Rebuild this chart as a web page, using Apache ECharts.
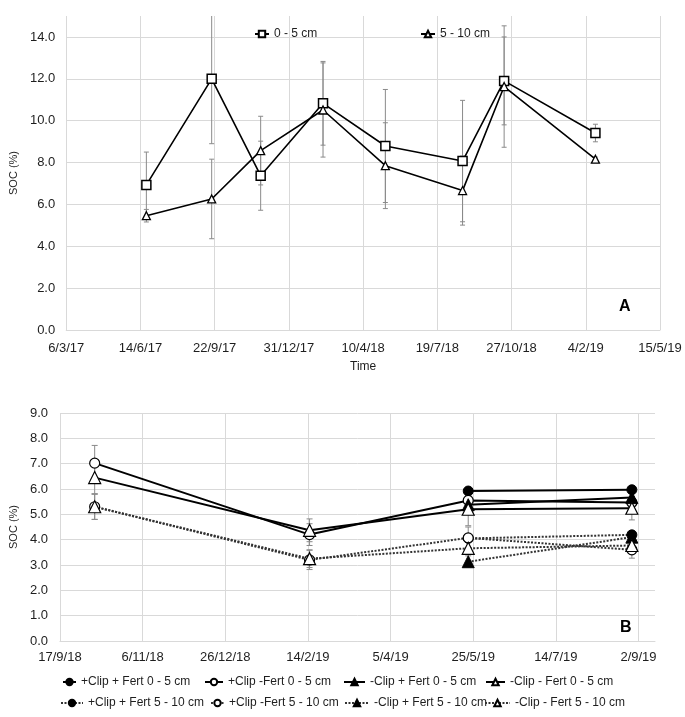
<!DOCTYPE html>
<html><head><meta charset="utf-8">
<script src="https://cdn.jsdelivr.net/npm/echarts@6/dist/echarts.min.js"></script>
<style>html,body{margin:0;padding:0;background:#fff}#c{width:685px;height:717px}</style>
</head><body><div id="c"></div>
<script>
// ---------- Panel A data ----------
const baseA = '2017-03-06';
const xTicksA = ['6/3/17','14/6/17','22/9/17','31/12/17','10/4/18','19/7/18','27/10/18','4/2/19','15/5/19'];
const yTicksA = ['0.0','2.0','4.0','6.0','8.0','10.0','12.0','14.0'];
const datesA = ['2017-06-22','2017-09-18','2017-11-23','2018-02-15','2018-05-10','2018-08-22','2018-10-17','2019-02-17'];
const soc05A  = [6.93, 12.0, 7.37, 10.83, 8.79, 8.07, 11.9, 9.41];
const err05A  = [1.57, 3.1, 1.65, 2.0, 2.7, 2.9, 2.1, 0.42];
const soc510A = [5.46, 6.26, 8.57, 10.51, 7.85, 6.66, 11.63, 8.16];
const err510A = [0.3, 1.9, 1.64, 2.25, 2.05, 1.65, 2.9, 0.1];

// ---------- Panel B data ----------
const baseB = '2018-09-17';
const xTicksB = ['17/9/18','6/11/18','26/12/18','14/2/19','5/4/19','25/5/19','14/7/19','2/9/19'];
const yTicksB = ['0.0','1.0','2.0','3.0','4.0','5.0','6.0','7.0','8.0','9.0'];
const datesB = ['2018-10-08','2019-02-15','2019-05-22','2019-08-29'];
const namesB = ['+Clip + Fert 0 - 5 cm','+Clip -Fert 0 - 5 cm','-Clip + Fert 0 - 5 cm','-Clip - Fert 0 - 5 cm',
                '+Clip + Fert 5 - 10 cm','+Clip -Fert 5 - 10 cm','-Clip + Fert 5 - 10 cm','-Clip - Fert 5 - 10 cm'];
const cpF05  = [null, null, 5.92, 5.97];
const cpNF05 = [7.02, 4.20, 5.55, 5.47];
const cnF05  = [null, null, 5.38, 5.66];
const cnNF05 = [6.45, 4.37, 5.20, 5.24];
const cpF510  = [null, null, 4.05, 4.19];
const cpNF510 = [5.30, 3.20, 4.07, 3.60];
const cnF510  = [null, null, 3.13, 4.10];
const cnNF510 = [5.30, 3.25, 3.66, 3.77];
const errCpNF05  = [0.70, 0.43, 0.20, 0.20];
const errCnNF05  = [0.64, 0.45, 0.65, 0.46];
const errCpNF510 = [0.50, 0.38, 0.43, 0.33];
const errCnNF510 = [0.50, 0.35, 0.30, 0.30];

// ---------- helpers ----------
function dayOf(s, base) {
  const a = s.split('-').map(Number), b = base.split('-').map(Number);
  return (Date.UTC(a[0], a[1]-1, a[2]) - Date.UTC(b[0], b[1]-1, b[2])) / 86400000;
}
const FONT = "'Liberation Sans', Arial, sans-serif";
const TXT = '#1e1e1e';
const GRIDC = '#d9d9d9';

function errRender(cap) {
  return function (params, api) {
    const x = api.value(0), lo = api.value(1), hi = api.value(2);
    const cs = params.coordSys;
    let a = api.coord([x, hi]), b = api.coord([x, lo]);
    let topCap = true;
    if (a[1] < cs.y) { a = [a[0], cs.y]; topCap = false; }
    const st = { stroke: '#8a8a8a', lineWidth: 1 };
    const ch = [{ type: 'line', shape: { x1: a[0], y1: a[1], x2: b[0], y2: b[1] }, style: st },
                { type: 'line', shape: { x1: b[0]-cap, y1: b[1], x2: b[0]+cap, y2: b[1] }, style: st }];
    if (topCap) ch.push({ type: 'line', shape: { x1: a[0]-cap, y1: a[1], x2: a[0]+cap, y2: a[1] }, style: st });
    return { type: 'group', children: ch };
  };
}

const series = [];
// Panel A error bars
function errSeriesA(vals, errs) {
  return { type: 'custom', xAxisIndex: 0, yAxisIndex: 0, z: 1, silent: true,
    renderItem: errRender(2.5), encode: { x: 0, y: [1, 2] },
    data: datesA.map((d, i) => [dayOf(d, baseA), vals[i] - errs[i], vals[i] + errs[i]]) };
}
series.push(errSeriesA(soc05A, err05A));
series.push(errSeriesA(soc510A, err510A));
series.push({ type: 'line', name: '0 - 5 cm', xAxisIndex: 0, yAxisIndex: 0, z: 3,
  data: datesA.map((d, i) => [dayOf(d, baseA), soc05A[i]]),
  symbol: 'rect', symbolSize: 9,
  itemStyle: { color: '#fff', borderColor: '#000', borderWidth: 1.5 },
  lineStyle: { color: '#000', width: 1.6 } });
series.push({ type: 'line', name: '5 - 10 cm', xAxisIndex: 0, yAxisIndex: 0, z: 3,
  data: datesA.map((d, i) => [dayOf(d, baseA), soc510A[i]]),
  symbol: 'triangle', symbolSize: 8,
  itemStyle: { color: '#fff', borderColor: '#000', borderWidth: 1.3 },
  lineStyle: { color: '#000', width: 1.6 } });

// Panel B
function errSeriesB(vals, errs) {
  const data = [];
  datesB.forEach((d, i) => { if (vals[i] != null && errs[i] != null) data.push([dayOf(d, baseB), vals[i] - errs[i], vals[i] + errs[i]]); });
  return { type: 'custom', xAxisIndex: 1, yAxisIndex: 1, z: 1, silent: true,
    renderItem: errRender(3), encode: { x: 0, y: [1, 2] }, data: data };
}
series.push(errSeriesB(cpNF05, errCpNF05));
series.push(errSeriesB(cnNF05, errCnNF05));
series.push(errSeriesB(cpNF510, errCpNF510));
series.push(errSeriesB(cnNF510, errCnNF510));

const valsB = [cpF05, cpNF05, cnF05, cnNF05, cpF510, cpNF510, cnF510, cnNF510];
const symB = ['circle','circle','triangle','triangle','circle','circle','triangle','triangle'];
const fillB = [true, false, true, false, true, false, true, false];
valsB.forEach((vals, k) => {
  const dotted = k >= 4;
  series.push({ type: 'line', name: namesB[k], xAxisIndex: 1, yAxisIndex: 1, z: 3,
    data: datesB.map((d, i) => vals[i] == null ? null : [dayOf(d, baseB), vals[i]]).filter(p => p),
    symbol: symB[k], symbolSize: symB[k] === 'circle' ? 10 : 12,
    itemStyle: fillB[k] ? { color: '#000', borderColor: '#000', borderWidth: 1 }
                        : { color: '#fff', borderColor: '#000', borderWidth: 1.2 },
    lineStyle: dotted ? { color: '#333', width: 2, type: [2, 1.5] } : { color: '#000', width: 2 } });
});

function legendItem(name, left, top, w) {
  return { data: [name], left: left, top: top, itemWidth: w, itemHeight: 8, itemGap: 0, padding: 0,
    selectedMode: false, textStyle: { fontSize: 12, color: TXT, fontFamily: FONT } };
}

const option = {
  animation: false,
  textStyle: { fontFamily: FONT },
  grid: [
    { left: 65, right: 25, top: 16, height: 314 },
    { left: 54, right: 30, top: 413, height: 228 }
  ],
  xAxis: [
    { type: 'value', gridIndex: 0, min: 0, max: 800, interval: 100,
      name: 'Time', nameLocation: 'middle', nameGap: 31,
      nameTextStyle: { fontSize: 12, color: TXT, fontFamily: FONT },
      axisLine: { show: true, lineStyle: { color: GRIDC } }, axisTick: { show: false },
      axisLabel: { margin: 12, fontSize: 13, color: TXT, fontFamily: FONT,
        formatter: v => (v % 100 === 0 ? xTicksA[v / 100] : '') },
      splitLine: { show: true, lineStyle: { color: GRIDC } } },
    { type: 'value', gridIndex: 1, min: 0, max: 360, interval: 50,
      axisLine: { show: true, lineStyle: { color: GRIDC } }, axisTick: { show: false },
      axisLabel: { margin: 10, fontSize: 13, color: TXT, fontFamily: FONT, showMaxLabel: false,
        formatter: v => (v % 50 === 0 ? xTicksB[v / 50] : '') },
      splitLine: { show: true, showMaxLine: false, lineStyle: { color: GRIDC } } }
  ],
  yAxis: [
    { type: 'value', gridIndex: 0, min: 0, max: 15, interval: 2,
      name: 'SOC (%)', nameLocation: 'middle', nameGap: 43,
      nameTextStyle: { fontSize: 11, color: TXT, fontFamily: FONT },
      axisLine: { show: false }, axisTick: { show: false },
      axisLabel: { margin: 11, fontSize: 13, color: TXT, fontFamily: FONT, showMaxLabel: false,
        formatter: v => (v % 2 === 0 ? yTicksA[v / 2] : '') },
      splitLine: { show: true, showMaxLine: false, lineStyle: { color: GRIDC } } },
    { type: 'value', gridIndex: 1, min: 0, max: 9, interval: 1,
      name: 'SOC (%)', nameLocation: 'middle', nameGap: 33,
      nameTextStyle: { fontSize: 11, color: TXT, fontFamily: FONT },
      axisLine: { show: false }, axisTick: { show: false },
      axisLabel: { margin: 12, fontSize: 13, color: TXT, fontFamily: FONT,
        formatter: v => yTicksB[v] },
      splitLine: { show: true, lineStyle: { color: GRIDC } } }
  ],
  legend: [
    legendItem('0 - 5 cm', 254, 28, 14),
    legendItem('5 - 10 cm', 420, 28, 14),
    legendItem(namesB[0], 62, 676, 13),
    legendItem(namesB[1], 204, 676, 18),
    legendItem(namesB[2], 343, 676, 21),
    legendItem(namesB[3], 485, 676, 19),
    legendItem(namesB[4], 60, 697, 22),
    legendItem(namesB[5], 210, 697, 13),
    legendItem(namesB[6], 344, 697, 24),
    legendItem(namesB[7], 484, 697, 25)
  ],
  graphic: [
    { type: 'text', left: 619, top: 299, style: { text: 'A', font: 'bold 16px ' + FONT, fill: '#000' } },
    { type: 'text', left: 620, top: 620, style: { text: 'B', font: 'bold 16px ' + FONT, fill: '#000' } }
  ],
  series: series
};
const chart = echarts.init(document.getElementById('c'), null, { renderer: 'canvas' });
chart.setOption(option);
</script>
</body></html>
